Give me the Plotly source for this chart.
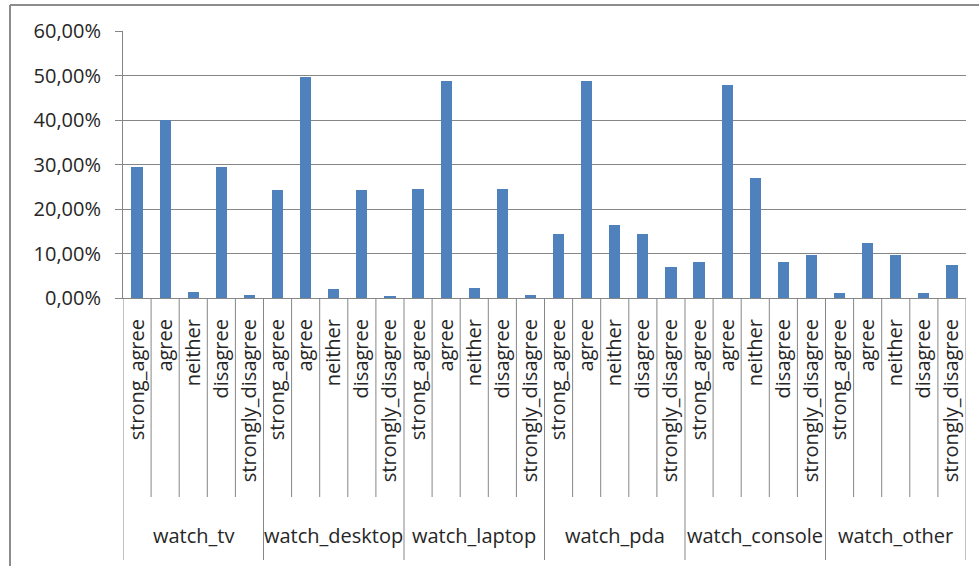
"""
Clustered column chart of viewing preferences per device (Excel style).
"""

import plotly.graph_objects as go

# Data (shares, 0-1)
devices = ['watch_tv', 'watch_desktop', 'watch_laptop',
           'watch_pda', 'watch_console', 'watch_other']
answers = ['strong_agree', 'agree', 'neither', 'disagree', 'strongly_disagree']

watch_tv = [0.294, 0.399, 0.013, 0.294, 0.006]
watch_desktop = [0.243, 0.496, 0.021, 0.243, 0.004]
watch_laptop = [0.246, 0.488, 0.023, 0.246, 0.006]
watch_pda = [0.144, 0.488, 0.164, 0.144, 0.069]
watch_console = [0.081, 0.478, 0.269, 0.081, 0.097]
watch_other = [0.011, 0.124, 0.097, 0.011, 0.074]

y_ticks = [0, 0.1, 0.2, 0.3, 0.4, 0.5, 0.6]

BAR_COLOR = '#4F81BD'
LINE_COLOR = '#868686'
TEXT_COLOR = '#262626'
FONT = 'Open Sans'
FONT_SIZE = 20

# plot area in pixels inside the 979x566 page
LEFT, RIGHT, TOP, BOTTOM = 123, 13, 31, 268
PLOT_W = 979 - LEFT - RIGHT
PLOT_H = 566 - TOP - BOTTOM


def px_to_paper_y(py):
    return (566 - BOTTOM - py) / PLOT_H


def px_to_paper_x(px):
    return (px - LEFT) / PLOT_W


def create_chart(output_file="out.html"):
    series = [watch_tv, watch_desktop, watch_laptop,
              watch_pda, watch_console, watch_other]

    x_pos, y_vals, tick_text = [], [], []
    for g, values in enumerate(series):
        for a, v in enumerate(values):
            x_pos.append(g * len(answers) + a)
            y_vals.append(v)
            tick_text.append(answers[a])

    fig = go.Figure()
    fig.add_trace(go.Bar(
        x=x_pos,
        y=y_vals,
        width=0.4,
        marker=dict(color=BAR_COLOR, line=dict(width=0)),
        hovertemplate='%{y:.2%}<extra></extra>',
    ))

    shapes = []
    n = len(x_pos)
    # separators between categories, longer ones between groups
    for i in range(n + 1):
        is_group = i % len(answers) == 0
        y1 = px_to_paper_y(560) if is_group else px_to_paper_y(497)
        shapes.append(dict(
            type='line', xref='x', yref='paper',
            x0=i - 0.5, x1=i - 0.5, y0=0, y1=y1,
            line=dict(color=LINE_COLOR, width=1),
        ))

    # outer chart border (left and top edges visible)
    bx, by = px_to_paper_x(10), px_to_paper_y(5)
    shapes.append(dict(type='line', xref='paper', yref='paper',
                       x0=bx, x1=bx, y0=by, y1=px_to_paper_y(570),
                       line=dict(color='#8c8c8c', width=2)))
    shapes.append(dict(type='line', xref='paper', yref='paper',
                       x0=bx, x1=px_to_paper_x(990), y0=by, y1=by,
                       line=dict(color='#8c8c8c', width=2)))

    annotations = []
    for g, name in enumerate(devices):
        center = g * len(answers) + (len(answers) - 1) / 2
        annotations.append(dict(
            x=center, y=px_to_paper_y(535), xref='x', yref='paper',
            text=name, showarrow=False, yanchor='middle',
            font=dict(family=FONT, size=FONT_SIZE, color=TEXT_COLOR),
        ))

    fig.update_layout(
        width=979,
        height=566,
        margin=dict(l=LEFT, r=RIGHT, t=TOP, b=BOTTOM, pad=0),
        paper_bgcolor='white',
        plot_bgcolor='white',
        separators=',.',
        showlegend=False,
        bargap=0,
        shapes=shapes,
        annotations=annotations,
        font=dict(family=FONT, size=FONT_SIZE, color=TEXT_COLOR),
    )

    fig.update_xaxes(
        range=[-0.5, n - 0.5],
        tickmode='array',
        tickvals=x_pos,
        ticktext=tick_text,
        tickangle=-90,
        ticks='',
        ticklabelstandoff=12,
        showgrid=False,
        showline=True,
        linecolor=LINE_COLOR,
        linewidth=1,
        zeroline=False,
        automargin=False,
        tickfont=dict(family=FONT, size=FONT_SIZE, color=TEXT_COLOR),
    )

    fig.update_yaxes(
        range=[0, 0.6],
        tickmode='array',
        tickvals=y_ticks,
        tickformat='.2%',
        ticks='outside',
        ticklen=7,
        tickcolor=LINE_COLOR,
        ticklabelstandoff=10,
        showline=True,
        linecolor=LINE_COLOR,
        linewidth=1,
        showgrid=True,
        gridcolor=LINE_COLOR,
        gridwidth=1,
        zeroline=False,
        automargin=False,
        tickfont=dict(family=FONT, size=FONT_SIZE, color=TEXT_COLOR),
    )

    # drop the browser's default body margin so the figure sits at 0,0
    fig.write_html(output_file,
                   config={'displayModeBar': False},
                   post_script="document.body.style.margin='0';")


if __name__ == "__main__":
    create_chart("out.html")
